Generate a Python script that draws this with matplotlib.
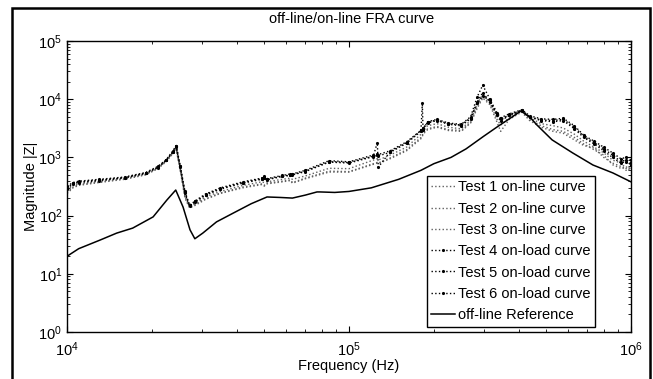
import numpy as np
import matplotlib
matplotlib.use("Agg")
import matplotlib.pyplot as plt
from matplotlib.patches import Rectangle

plt.rcParams['font.family'] = ['Liberation Sans', 'DejaVu Sans']
plt.rcParams['mathtext.fontset'] = 'custom'
plt.rcParams['mathtext.rm'] = 'Liberation Sans'
plt.rcParams['mathtext.default'] = 'regular'

# === Data (frequency in kHz, magnitude |Z|) ===
freq_khz = [10, 10.5, 11, 13, 16, 19, 21, 22.5, 23.7, 24.4, 25.2, 26.2, 27.2, 28.5,
            31, 35, 42, 49, 50, 51, 58, 62, 63, 70, 85, 100, 122, 126, 127, 140,
            160, 180, 182, 183, 190, 205, 225, 250, 270, 285, 298, 316, 335, 345,
            370, 410, 437, 480, 530, 575, 630, 680, 740, 800, 860, 920, 960, 1000]

test1 = [240, 300, 330, 370, 420, 500, 640, 850, 1150, 1350, 600, 200, 135, 150,
         190, 240, 300, 340, 320, 350, 380, 400, 360, 430, 560, 560, 760, 800, 780, 950,
         1300, 2100, 2300, 2500, 3000, 3300, 2900, 2800, 3900, 7000, 10500, 8000, 4000, 2800,
         4500, 6000, 4300, 3300, 2800, 2600, 2000, 1600, 1450, 1000, 800, 700, 600, 700]
test2 = [250, 310, 340, 380, 430, 510, 650, 870, 1180, 1400, 620, 210, 140, 155,
         195, 245, 310, 350, 330, 360, 390, 410, 370, 440, 580, 570, 780, 820, 800, 980,
         1350, 2200, 2400, 2600, 3100, 3400, 3000, 2900, 4000, 7500, 11000, 8500, 4500, 3600,
         4800, 6200, 4500, 3500, 3000, 2800, 2200, 1700, 1350, 1100, 750, 650, 700, 560]
test3 = [270, 330, 350, 390, 440, 520, 660, 880, 1200, 1450, 650, 220, 140, 160,
         210, 260, 330, 380, 370, 380, 420, 440, 420, 480, 650, 640, 900, 950, 900, 1100,
         1500, 2500, 2700, 2800, 3500, 3800, 3300, 3100, 4300, 8500, 12000, 9000, 5000, 4200,
         5200, 6400, 4800, 3800, 3500, 3200, 2500, 1900, 1500, 1200, 900, 800, 650, 650]
test4 = [300, 360, 380, 410, 450, 540, 680, 900, 1250, 1550, 700, 250, 150, 175,
         230, 290, 370, 430, 460, 420, 480, 500, 510, 580, 850, 820, 1050, 1800, 680, 1250,
         1800, 2900, 3000, 3200, 4000, 4400, 3800, 3600, 4800, 9000, 13000, 9000, 5500, 4500,
         5400, 6500, 5000, 4400, 4300, 4500, 3300, 2300, 1800, 1400, 1100, 850, 900, 800]
test5 = [320, 370, 390, 420, 460, 550, 700, 920, 1280, 1600, 720, 260, 150, 180,
         235, 300, 380, 440, 480, 430, 490, 520, 520, 600, 880, 840, 1100, 1150, 1120, 1300,
         1850, 2900, 8600, 3000, 4100, 4500, 3900, 3700, 5000, 11000, 17400, 10000, 5800, 4800,
         5600, 6600, 5200, 4600, 4500, 4700, 3500, 2400, 1900, 1500, 1200, 950, 1000, 900]
test6 = [290, 350, 370, 400, 445, 530, 670, 890, 1220, 1500, 680, 240, 145, 170,
         225, 285, 360, 420, 440, 410, 470, 490, 500, 570, 830, 800, 1030, 1080, 1060, 1220,
         1750, 2800, 2900, 3100, 3900, 4300, 3700, 3500, 4600, 8500, 11500, 9500, 5300, 4300,
         5300, 6300, 4900, 4300, 4100, 4300, 3100, 2200, 1700, 1300, 1000, 800, 850, 750]

ref_khz = [10, 11, 13.1, 15, 17.1, 20.2, 22.6, 24.3, 25.8, 27.3, 28.4, 30.3, 33.9,
           38.8, 45, 51.2, 57, 63, 70, 77, 79, 89, 100, 120, 150, 180, 200, 230,
           260, 300, 340, 380, 407, 440, 464, 525, 620, 733, 863, 1000]
ref_mag = [20, 27, 38, 50, 61, 95, 185, 275, 140, 57, 40, 50, 78,
           110, 160, 209, 205, 200, 225, 255, 255, 250, 260, 300, 420, 600, 780, 1000,
           1400, 2300, 3500, 5000, 6300, 4800, 3600, 2000, 1200, 740, 540, 380]

labels = ['Test 1 on-line curve', 'Test 2 on-line curve', 'Test 3 on-line curve',
          'Test 4 on-load curve', 'Test 5 on-load curve', 'Test 6 on-load curve',
          'off-line Reference']

W, H = 653, 379
FS = 10.5
fig = plt.figure(figsize=(W / 100, H / 100), dpi=100)
ax = fig.add_axes([67 / W, 1 - 332 / H, (631 - 67) / W, (332 - 41) / H])

f = np.array(freq_khz) * 1e3
tests = [test1, test2, test3, test4, test5, test6]
for i, t in enumerate(tests):
    if i < 3:
        ax.plot(f, t, linestyle=':', color='#606060', lw=1.0, label=labels[i])
    else:
        ax.plot(f, t, linestyle=':', color='black', lw=1.0, marker='.',
                markersize=2.5, label=labels[i])
ax.plot(np.array(ref_khz) * 1e3, ref_mag, '-', color='black', lw=1.1, label=labels[6])

ax.set_xscale('log')
ax.set_yscale('log')
ax.set_xlim(1e4, 1e6)
ax.set_ylim(1, 1e5)
ax.set_xticks([1e4, 1e5, 1e6])
ax.set_yticks([1e0, 1e1, 1e2, 1e3, 1e4, 1e5])
ax.tick_params(which='both', direction='in', top=True, right=True, labelsize=FS)
ax.tick_params(which='major', length=4, width=0.8)
ax.tick_params(which='minor', length=2, width=0.6)
ax.tick_params(axis='x', pad=6)
for s in ax.spines.values():
    s.set_linewidth(1.0)

ax.set_xlabel('Frequency (Hz)', fontsize=FS)
ax.set_ylabel('Magnitude |Z|', fontsize=FS)
ax.xaxis.set_label_coords(0.5, (332 - 359) / 291)
ax.yaxis.set_label_coords((38 - 67) / 564, 0.5)
fig.text(352 / W, 1 - 19 / H, 'off-line/on-line FRA curve', fontsize=FS,
         ha='center', va='center')

leg = ax.legend(loc='upper left', bbox_to_anchor=((427 - 67) / 564, (332 - 176) / 291),
                borderaxespad=0, fontsize=FS, numpoints=1, handlelength=1.6,
                handletextpad=0.25, labelspacing=0.5, fancybox=False,
                framealpha=1, edgecolor='black', borderpad=0.3)
leg.get_frame().set_linewidth(1.0)

# outer frame around the figure
fig.patches.append(Rectangle((12.5 / W, -0.02), (650 - 12.5) / W, 1.02 - 8 / H,
                             transform=fig.transFigure, fill=False,
                             edgecolor='black', lw=1.8))

fig.savefig('out.png', dpi=100)
